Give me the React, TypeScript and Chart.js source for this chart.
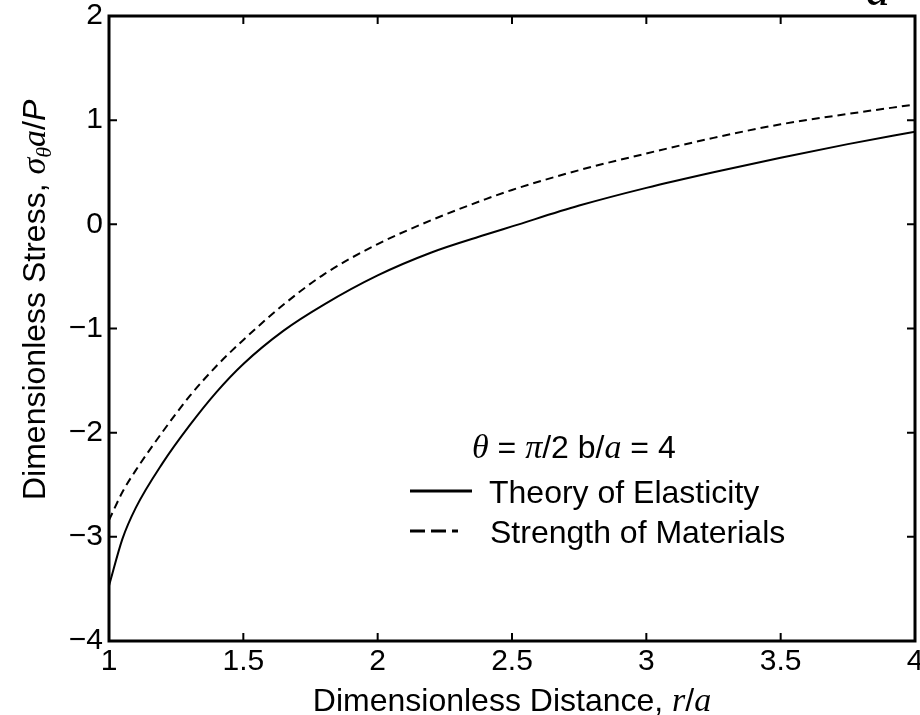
import React, { useEffect, useRef } from "react";
import { Chart, registerables } from "chart.js";

Chart.register(...registerables);

// ---- data ----
const distance = [1, 1.05, 1.1, 1.2, 1.3, 1.4, 1.5, 1.65, 1.8, 2.0, 2.2, 2.4, 2.5, 2.75, 3.0, 3.25, 3.5, 3.75, 4.0];
const elasticity = [-3.47, -3.02, -2.72, -2.29, -1.93, -1.61, -1.34, -1.02, -0.77, -0.49, -0.27, -0.1, -0.02, 0.18, 0.35, 0.5, 0.64, 0.77, 0.89];
const strength = [-2.84, -2.57, -2.36, -1.99, -1.65, -1.36, -1.11, -0.77, -0.48, -0.19, 0.04, 0.24, 0.33, 0.52, 0.68, 0.83, 0.96, 1.06, 1.15];
const xTicks = [1, 1.5, 2, 2.5, 3, 3.5, 4];
const yTicks = [-4, -3, -2, -1, 0, 1, 2];
const seriesLabels = ["Theory of Elasticity", "Strength of Materials"];

const SANS = '"Liberation Sans", Arial, Helvetica, sans-serif';
const SERIF = '"Liberation Serif", "Times New Roman", serif';

type Seg = { t: string; f: string; dy?: number };

function richWidth(ctx: CanvasRenderingContext2D, segs: Seg[]) {
  let w = 0;
  for (const s of segs) {
    ctx.font = s.f;
    w += ctx.measureText(s.t).width;
  }
  return w;
}

function drawRich(ctx: CanvasRenderingContext2D, segs: Seg[], x: number, y: number) {
  let cx = x;
  for (const s of segs) {
    ctx.font = s.f;
    ctx.fillText(s.t, cx, y + (s.dy || 0));
    cx += ctx.measureText(s.t).width;
  }
}

const sans = (n: number) => `${n}px ${SANS}`;
const isans = (n: number) => `italic ${n}px ${SANS}`;
const iserif = (n: number) => `italic ${n}px ${SERIF}`;

const decorPlugin = {
  id: "decor",
  afterDraw(chart: any) {
    const ctx: CanvasRenderingContext2D = chart.ctx;
    const { left, right, top, bottom } = chart.chartArea;
    const xs = chart.scales.x;
    const ys = chart.scales.y;
    ctx.save();
    ctx.fillStyle = "#000";
    ctx.strokeStyle = "#000";

    // frame
    ctx.lineWidth = 3;
    ctx.setLineDash([]);
    ctx.strokeRect(left, top, right - left, bottom - top);

    // inward ticks on all four sides
    ctx.lineWidth = 2;
    const tl = 8;
    ctx.beginPath();
    for (const v of xTicks) {
      const px = xs.getPixelForValue(v);
      ctx.moveTo(px, bottom);
      ctx.lineTo(px, bottom - tl);
      ctx.moveTo(px, top);
      ctx.lineTo(px, top + tl);
    }
    for (const v of yTicks) {
      const py = ys.getPixelForValue(v);
      ctx.moveTo(left, py);
      ctx.lineTo(left + tl, py);
      ctx.moveTo(right, py);
      ctx.lineTo(right - tl, py);
    }
    ctx.stroke();

    ctx.textBaseline = "alphabetic";
    ctx.textAlign = "left";

    // x axis title
    const xt: Seg[] = [
      { t: "Dimensionless Distance, ", f: sans(32) },
      { t: "r", f: iserif(34) },
      { t: "/", f: sans(32) },
      { t: "a", f: iserif(34) },
    ];
    const xw = richWidth(ctx, xt);
    drawRich(ctx, xt, (left + right) / 2 - xw / 2, bottom + 70);

    // y axis title (rotated)
    const yt: Seg[] = [
      { t: "Dimensionless Stress, ", f: sans(32) },
      { t: "\u03c3", f: iserif(34) },
      { t: "\u03b8", f: iserif(22), dy: 6 },
      { t: "a", f: iserif(34) },
      { t: "/", f: sans(32) },
      { t: "P", f: isans(32) },
    ];
    ctx.save();
    ctx.translate(left - 64, bottom - 141);
    ctx.rotate(-Math.PI / 2);
    drawRich(ctx, yt, 0, 0);
    ctx.restore();

    // legend
    const ds = chart.data.datasets;
    const lx = left + 301;
    const lt: Seg[] = [
      { t: "\u03b8", f: iserif(34) },
      { t: " = ", f: sans(32) },
      { t: "\u03c0", f: iserif(34) },
      { t: "/2 b/", f: sans(32) },
      { t: "a", f: iserif(34) },
      { t: " = 4", f: sans(32) },
    ];
    drawRich(ctx, lt, left + 363, top + 442);

    ctx.lineWidth = 3;
    ctx.strokeStyle = ds[0].borderColor;
    ctx.setLineDash([]);
    ctx.beginPath();
    ctx.moveTo(lx, top + 475);
    ctx.lineTo(lx + 62, top + 475);
    ctx.stroke();
    ctx.font = sans(32);
    ctx.fillText(ds[0].label, lx + 79, top + 487);

    ctx.strokeStyle = ds[1].borderColor;
    ctx.setLineDash([15, 6]);
    ctx.beginPath();
    ctx.moveTo(lx, top + 515);
    ctx.lineTo(lx + 48, top + 515);
    ctx.stroke();
    ctx.setLineDash([]);
    ctx.font = sans(32);
    ctx.fillText(ds[1].label, lx + 80, top + 527);

    // cropped glyph from the source figure at the top edge
    ctx.font = iserif(48);
    ctx.fillText("a", 866, 5);

    ctx.restore();
  },
};

export default function App() {
  const ref = useRef<HTMLCanvasElement | null>(null);

  useEffect(() => {
    if (!ref.current) return;
    const chart = new Chart(ref.current, {
      type: "line",
      data: {
        datasets: [
          {
            label: seriesLabels[0],
            data: distance.map((x, i) => ({ x, y: elasticity[i] })),
            borderColor: "#000",
            borderWidth: 2,
            pointRadius: 0,
            fill: false,
            cubicInterpolationMode: "monotone",
          },
          {
            label: seriesLabels[1],
            data: distance.map((x, i) => ({ x, y: strength[i] })),
            borderColor: "#000",
            borderWidth: 2,
            borderDash: [8, 5],
            pointRadius: 0,
            fill: false,
            cubicInterpolationMode: "monotone",
          },
        ],
      },
      options: {
        responsive: false,
        animation: false,
        devicePixelRatio: 1,
        layout: { padding: { top: 16, right: 5, left: 0, bottom: 0 } },
        plugins: {
          legend: { display: false },
          tooltip: { enabled: false },
        },
        scales: {
          x: {
            type: "linear",
            min: 1,
            max: 4,
            grid: { display: false, drawTicks: false },
            border: { display: false },
            afterBuildTicks: (s: any) => {
              s.ticks = xTicks.map((v) => ({ value: v }));
            },
            afterFit: (s: any) => {
              s.height = 74;
              s.paddingLeft = 0;
              s.paddingRight = 0;
            },
            ticks: {
              color: "#000",
              padding: 3,
              maxRotation: 0,
              autoSkip: false,
              font: { family: SANS, size: 30 },
              callback: (v: any) => String(v),
            },
          },
          y: {
            type: "linear",
            min: -4,
            max: 2,
            grid: { display: false, drawTicks: false },
            border: { display: false },
            afterBuildTicks: (s: any) => {
              s.ticks = yTicks.map((v) => ({ value: v }));
            },
            afterFit: (s: any) => {
              s.width = 109;
              s.paddingTop = 0;
              s.paddingBottom = 0;
            },
            ticks: {
              color: "#000",
              padding: 6,
              autoSkip: false,
              font: { family: SANS, size: 30 },
              callback: (v: any) => (Number(v) < 0 ? "\u2212" + Math.abs(Number(v)) : String(v)),
            },
          },
        },
      },
      plugins: [decorPlugin],
    });
    return () => chart.destroy();
  }, []);

  return (
    <div style={{ position: "absolute", left: 0, top: 0, width: 920, height: 715, background: "#fff" }}>
      <canvas ref={ref} width={920} height={715} style={{ width: 920, height: 715, display: "block" }} />
    </div>
  );
}
